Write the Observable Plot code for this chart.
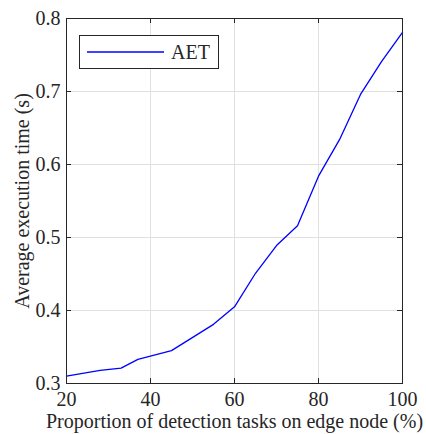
<!DOCTYPE html>
<html><head><meta charset="utf-8">
<script src="https://cdn.jsdelivr.net/npm/d3@7"></script>
<script src="https://cdn.jsdelivr.net/npm/@observablehq/plot@0.6"></script>
<style>body{margin:0;background:#fff}</style>
</head><body><div id="chart"></div>
<script>
const proportion = [20, 28, 33, 37, 45, 55, 60, 65, 70, 75, 80, 85, 90, 95, 100];
const aet = [0.310, 0.318, 0.321, 0.333, 0.345, 0.381, 0.405, 0.451, 0.489, 0.516, 0.584, 0.634, 0.696, 0.741, 0.781];
const xTicks = [20, 40, 60, 80, 100];
const yTicks = [0.3, 0.4, 0.5, 0.6, 0.7, 0.8];
const seriesName = "AET";
const xLabel = "Proportion of detection tasks on edge node (%)";
const yLabel = "Average execution time (s)";

const data = proportion.map((x, i) => ({x, y: aet[i]}));
const W = 426, H = 434, ml = 66, mr = 24, mt = 18, mb = 51;
const pw = W - ml - mr, ph = H - mt - mb;
const tick = 5;
const axisColor = "#262626", gridColor = "#e0e0e0";
const font = "'Liberation Serif', 'Times New Roman', serif";

const chart = Plot.plot({
  width: W, height: H,
  marginLeft: ml, marginRight: mr, marginTop: mt, marginBottom: mb,
  style: {fontFamily: font, fontSize: "20px", background: "#fff", color: axisColor, overflow: "visible"},
  x: {domain: [20, 100]},
  y: {domain: [0.3, 0.8]},
  marks: [
    Plot.ruleX(xTicks.slice(1, -1), {stroke: gridColor}),
    Plot.ruleY(yTicks.slice(1, -1), {stroke: gridColor}),
    Plot.line(data, {x: "x", y: "y", stroke: "#0000ff", strokeWidth: 1.3}),
    Plot.ruleX(xTicks, {stroke: axisColor, insetTop: ph - tick}),
    Plot.ruleX(xTicks, {stroke: axisColor, insetBottom: ph - tick}),
    Plot.ruleY(yTicks, {stroke: axisColor, insetRight: pw - tick}),
    Plot.ruleY(yTicks, {stroke: axisColor, insetLeft: pw - tick}),
    Plot.frame({stroke: axisColor}),
    Plot.axisX({ticks: xTicks, tickSize: 0, tickPadding: 8, label: xLabel, labelAnchor: "center", labelArrow: "none", labelOffset: 44}),
    Plot.axisY({ticks: yTicks, tickSize: 0, tickPadding: 6, tickFormat: d3.format(".1f"), label: yLabel, labelAnchor: "center", labelArrow: "none", labelOffset: 52})
  ]
});

// legend box inside the plot area (top-left)
const svg = d3.select(chart);
const lg = svg.append("g").attr("font-family", font).attr("font-size", 20).attr("text-anchor", "start");
lg.append("rect").attr("x", ml + 13.5).attr("y", mt + 17.5).attr("width", 139).attr("height", 33)
  .attr("fill", "#fff").attr("stroke", axisColor);
lg.append("line").attr("x1", ml + 21).attr("x2", ml + 98).attr("y1", mt + 34).attr("y2", mt + 34)
  .attr("stroke", "#0000ff").attr("stroke-width", 1.3);
lg.append("text").attr("x", ml + 105).attr("y", mt + 41).attr("fill", axisColor).text(seriesName);

document.getElementById("chart").appendChild(chart);
</script>
</body></html>
